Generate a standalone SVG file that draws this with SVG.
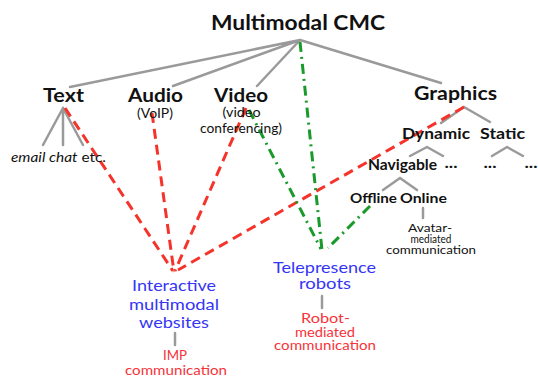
<svg xmlns="http://www.w3.org/2000/svg" width="538" height="379" viewBox="0 0 538 379">
<style>
.t{font-family:Lato,"Open Sans","Liberation Sans",sans-serif;fill:#111;text-anchor:middle}
.b{font-weight:bold}
.h1{font-size:20px}
.h2{font-size:18px}
.h3{font-size:15px}
.h4{font-size:13.5px}
.s{font-size:13px}
.sm{font-size:11.5px}
.blue{fill:#3535f5;font-size:16px}
.red{fill:#f5333a;font-size:13px}
.g{stroke:#9a9a9a;stroke-width:2.5;fill:none;stroke-linecap:round}
.rd{stroke:#f5332a;stroke-width:3;fill:none;stroke-dasharray:10 6}
.gr{stroke:#1a9a2a;stroke-width:3;fill:none;stroke-dasharray:10 5 2 5}
</style>
<rect width="538" height="379" fill="#fff"/>
<g id="connectors">
<path class="g" d="M300,40 L70,87 M300,40 L173,86 M300,40 L257,86 M300,40 L441,83"/>
<path class="g" d="M63,108 L43,145 M63,108 L63,145 M63,108 L83,145"/>
<path class="g" d="M464,107 L441,123 M464,107 L490,122"/>
<path class="g" d="M427,147 L410,156 M427,147 L443,156 M507,147 L492,156 M507,147 L523,156"/>
<path class="g" d="M400,178 L383,190 M400,178 L417,190 M423,208 L423,218"/>
<path class="g" d="M322,296 L322,308 M175,333 L175,345"/>
<path class="rd" d="M65,108 L173,271"/>
<path class="rd" d="M152,113 L174,272"/>
<path class="rd" d="M246,108 L175,271"/>
<path class="rd" d="M464,107 L178,270"/>
<path class="gr" d="M300,42 L322,250"/>
<path class="gr" d="M249,110 L321,249"/>
<path class="gr" d="M370,206 L328,248"/>
</g>
<g id="root"><text class="t b h1" x="298" y="30" textLength="174" lengthAdjust="spacingAndGlyphs">Multimodal CMC</text></g>
<g id="text"><text class="t b h2" x="63.5" y="102" textLength="41" lengthAdjust="spacingAndGlyphs">Text</text></g>
<g id="email"><text class="t s" x="58.5" y="162" textLength="95" lengthAdjust="spacingAndGlyphs"><tspan font-style="italic">email chat</tspan> etc.</text></g>
<g id="audio"><text class="t b h2" x="155.5" y="102" textLength="55" lengthAdjust="spacingAndGlyphs">Audio</text><text class="t s" x="155" y="118" textLength="36" lengthAdjust="spacingAndGlyphs">(VoIP)</text></g>
<g id="video"><text class="t b h2" x="241" y="102" textLength="54" lengthAdjust="spacingAndGlyphs">Video</text><text class="t s" x="241.5" y="117" textLength="38" lengthAdjust="spacingAndGlyphs">(video</text><text class="t s" x="241" y="133" textLength="82" lengthAdjust="spacingAndGlyphs">conferencing)</text></g>
<g id="graphics"><text class="t b h2" x="455.5" y="100" textLength="83" lengthAdjust="spacingAndGlyphs">Graphics</text></g>
<g id="dynamic"><text class="t b h3" x="436" y="139" textLength="68" lengthAdjust="spacingAndGlyphs">Dynamic</text></g>
<g id="static"><text class="t b h3" x="502.5" y="139" textLength="45" lengthAdjust="spacingAndGlyphs">Static</text></g>
<g id="navigable"><text class="t b h3" x="402.5" y="170" textLength="69" lengthAdjust="spacingAndGlyphs">Navigable</text></g>
<g id="dots1"><text class="t b h3" x="451" y="168" textLength="13" lengthAdjust="spacingAndGlyphs">...</text></g>
<g id="dots2"><text class="t b h3" x="490" y="168" textLength="13" lengthAdjust="spacingAndGlyphs">...</text></g>
<g id="dots3"><text class="t b h3" x="531" y="168" textLength="13" lengthAdjust="spacingAndGlyphs">...</text></g>
<g id="offline"><text class="t b h4" x="373.5" y="203" textLength="47" lengthAdjust="spacingAndGlyphs">Offline</text></g>
<g id="online"><text class="t b h4" x="423.5" y="203" textLength="47" lengthAdjust="spacingAndGlyphs">Online</text></g>
<g id="avatar"><text class="t sm" x="430" y="232" textLength="44" lengthAdjust="spacingAndGlyphs">Avatar-</text><text class="t sm" x="431" y="243" textLength="41" lengthAdjust="spacingAndGlyphs">mediated</text><text class="t sm" x="431" y="254" textLength="90" lengthAdjust="spacingAndGlyphs">communication</text></g>
<g id="telepresence"><text class="t blue" x="324.5" y="273" textLength="103" lengthAdjust="spacingAndGlyphs">Telepresence</text><text class="t blue" x="325" y="289" textLength="52" lengthAdjust="spacingAndGlyphs">robots</text></g>
<g id="robotmed"><text class="t red" x="325.5" y="323" textLength="49" lengthAdjust="spacingAndGlyphs">Robot-</text><text class="t red" x="325" y="337" textLength="60" lengthAdjust="spacingAndGlyphs">mediated</text><text class="t red" x="325" y="350" textLength="102" lengthAdjust="spacingAndGlyphs">communication</text></g>
<g id="imw"><text class="t blue" x="174" y="291" textLength="84" lengthAdjust="spacingAndGlyphs">Interactive</text><text class="t blue" x="174" y="309.5" textLength="90" lengthAdjust="spacingAndGlyphs">multimodal</text><text class="t blue" x="174" y="328" textLength="70" lengthAdjust="spacingAndGlyphs">websites</text></g>
<g id="imp"><text class="t red" x="175" y="360" textLength="24" lengthAdjust="spacingAndGlyphs">IMP</text><text class="t red" x="176" y="375" textLength="102" lengthAdjust="spacingAndGlyphs">communication</text></g>
</svg>
